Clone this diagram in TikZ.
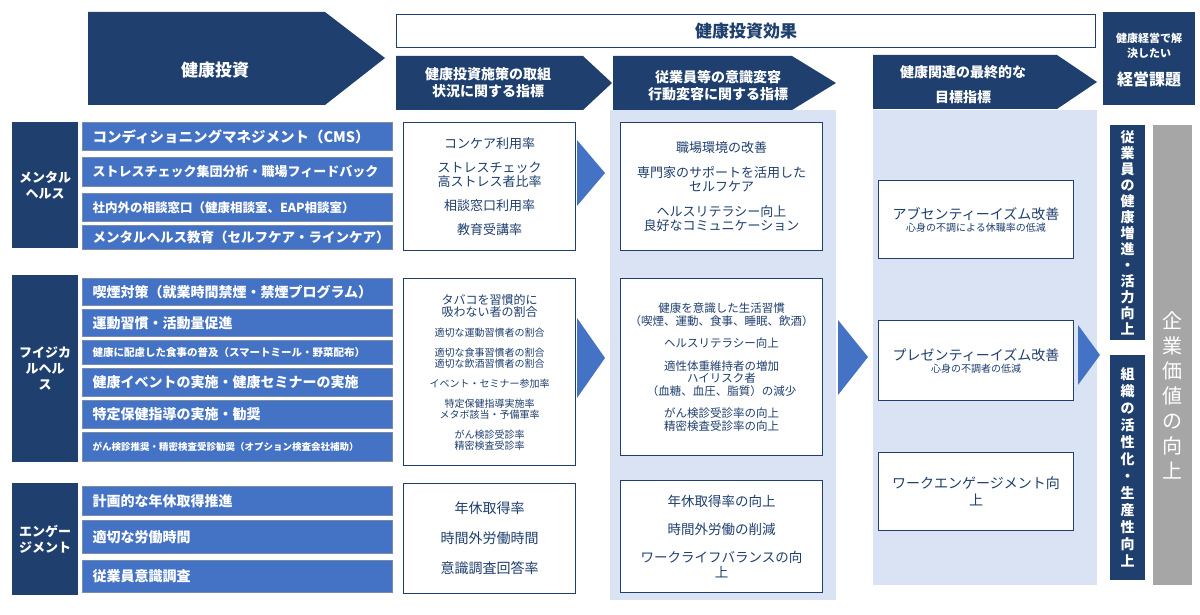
\documentclass[tikz,border=0pt]{standalone}
\usepackage{fontspec}
\setmainfont{Noto Sans CJK JP}
\begin{document}
\begin{tikzpicture}[x=1pt,y=-1pt,
 navy/.style={fill=nv,draw=none,text=white,font=\bfseries},
 bar/.style={fill=bl,draw=nv!60,line width=0.8pt,text=white,anchor=north west,inner sep=0pt},
 wbox/.style={fill=white,draw=nv,line width=1pt},
 tx/.style={text=nv,align=center,inner sep=0pt}]
\definecolor{nv}{HTML}{1F3F6E}
\definecolor{bl}{HTML}{4472C4}
\definecolor{lb}{HTML}{DAE3F3}
\definecolor{gr}{HTML}{A6A6A6}
\useasboundingbox (0,0) rectangle (1200,615);
% top arrows
\fill[nv] (88,12) -- (325,12) -- (385,58) -- (325,105) -- (88,105) -- cycle;
\node[text=white,font=\bfseries\fontsize{17}{18}\selectfont] (t1) at (215,70) {健康投資};
\node[wbox,minimum width=699,minimum height=33,anchor=north west,inner sep=0pt] (eff) at (396,14) {};
\node[text=nv,font=\bfseries\fontsize{17}{18}\selectfont] at (eff.center) {健康投資効果};
\fill[nv] (396,56) -- (583,56) -- (612,83) -- (583,110) -- (396,110) -- cycle;
\node[text=white,align=center,font=\bfseries\fontsize{14}{17}\selectfont] (t2) at (488,83) {健康投資施策の取組\\状況に関する指標};
\fill[nv] (613,56) -- (792,56) -- (836,83) -- (792,110) -- (613,110) -- cycle;
\node[text=white,align=center,font=\bfseries\fontsize{14}{17}\selectfont] (t3) at (718,86) {従業員等の意識変容\\行動変容に関する指標};
\fill[nv] (873,55) -- (1057,55) -- (1097,82) -- (1057,109) -- (873,109) -- cycle;
\node[text=white,align=center,font=\bfseries\fontsize{14}{25}\selectfont] (t4) at (963,85) {健康関連の最終的な\\目標指標};
\node[navy,minimum width=92,minimum height=93,anchor=north west,inner sep=0pt] (kei) at (1103,12) {};
\node[text=white,align=center,font=\bfseries\fontsize{11}{15}\selectfont] at (1149,46) {健康経営で解\\決したい};
\node[text=white,font=\bfseries\fontsize{16}{18}\selectfont] at (1149,79) {経営課題};
% background columns
\fill[lb] (610,110) rectangle (836,600);
\fill[lb] (873,110) rectangle (1097,585);
% left categories
\node[navy,minimum width=66,minimum height=126,anchor=north west,font=\bfseries\fontsize{13}{16}\selectfont,align=center] (mh) at (12,122) {メンタル\\ヘルス};
\node[navy,minimum width=66,minimum height=187,anchor=north west,font=\bfseries\fontsize{13}{16}\selectfont,align=center] (ph) at (12,275) {フイジカ\\ルヘル\\ス};
\node[navy,minimum width=66,minimum height=112,anchor=north west,font=\bfseries\fontsize{13}{16}\selectfont,align=center] (en) at (12,483) {エンゲー\\ジメント};
% bars
\foreach \y/\h/\s/\t [count=\i] in {
 122/28/14.5/{コンディショニングマネジメント（CMS）},
 157/29/13/{ストレスチェック集団分析・職場フィードバック},
 193/28/12.5/{社内外の相談窓口（健康相談室、EAP相談室）},
 225/24/13.5/{メンタルヘルス教育（セルフケア・ラインケア）},
 278/27/14/{喫煙対策（就業時間禁煙・禁煙プログラム）},
 309/27/14/{運動習慣・活動量促進},
 340/24/10.5/{健康に配慮した食事の普及（スマートミール・野菜配布）},
 368/28/14/{健康イベントの実施・健康セミナーの実施},
 400/28/14/{特定保健指導の実施・勧奨},
 432/29/9.5/{がん検診推奨・精密検査受診勧奨（オプション検査会社補助）},
 486/29/14/{計画的な年休取得推進},
 520/33/14/{適切な労働時間},
 560/32/14/{従業員意識調査}}
 {\node[bar,minimum width=310,minimum height=\h] (b\i) at (82,\y) {};
  \node[anchor=west,text=white,font=\bfseries\fontsize{\s}{\s}\selectfont] at ([xshift=7]b\i.west) {\t};}
% column 2
\node[wbox,minimum width=172,minimum height=128,anchor=north west] (c2a) at (403,122) {};
\node[tx,font=\fontsize{13}{14}\selectfont] at (c2a.center) {コンケア利用率\\[10pt]ストレスチェック\\高ストレス者比率\\[10pt]相談窓口利用率\\[10pt]教育受講率};
\node[wbox,minimum width=172,minimum height=187,anchor=north west] (c2b) at (403,278) {};
\node[tx,font=\fontsize{10}{11}\selectfont] at (c2b.center) {{\fontsize{12}{13}\selectfont タバコを習慣的に}\\{\fontsize{12}{13}\selectfont 吸わない者の割合}\\[9pt]適切な運動習慣者の割合\\[9pt]適切な食事習慣者の割合\\適切な飲酒習慣者の割合\\[9pt]イベント・セミナー参加率\\[9pt]特定保健指導実施率\\メタボ該当・予備軍率\\[9pt]がん検診受診率\\精密検査受診率};
\node[wbox,minimum width=172,minimum height=110,anchor=north west] (c2c) at (403,483) {};
\node[tx,font=\fontsize{14}{16}\selectfont] at (c2c.center) {年休取得率\\[14pt]時間外労働時間\\[14pt]意識調査回答率};
\fill[bl] (577,140) -- (605,173) -- (577,206) -- cycle;
\fill[bl] (577,318) -- (605,358) -- (577,398) -- cycle;
% column 3
\node[wbox,minimum width=202,minimum height=128,anchor=north west] (c3a) at (620,122) {};
\node[tx,font=\fontsize{13}{14}\selectfont] at (c3a.center) {職場環境の改善\\[11pt]専門家のサポートを活用した\\セルフケア\\[11pt]ヘルスリテラシー向上\\良好なコミュニケーション};
\node[wbox,minimum width=202,minimum height=177,anchor=north west] (c3b) at (620,278) {};
\node[tx,font=\fontsize{11.5}{12.5}\selectfont] at (c3b.center) {健康を意識した生活習慣\\（喫煙、運動、食事、睡眠、飲酒）\\[10pt]ヘルスリテラシー向上\\[10pt]適性体重維持者の増加\\ハイリスク者\\（血糖、血圧、脂質）の減少\\[10pt]がん検診受診率の向上\\精密検査受診率の向上};
\node[wbox,minimum width=202,minimum height=112,anchor=north west] (c3c) at (620,480) {};
\node[tx,font=\fontsize{13.5}{15}\selectfont] at (c3c.center) {年休取得率の向上\\[13pt]時間外労働の削減\\[13pt]ワークライフバランスの向\\上};
\fill[bl] (838,320) -- (868,357) -- (838,395) -- cycle;
% column 4
\node[wbox,minimum width=195,minimum height=78,anchor=north west] (c4a) at (878,180) {};
\node[tx] at (c4a.center) {{\fontsize{14}{16}\selectfont アブセンティーイズム改善}\\{\fontsize{10}{12}\selectfont 心身の不調による休職率の低減}};
\node[wbox,minimum width=195,minimum height=80,anchor=north west] (c4b) at (878,320) {};
\node[tx] at (c4b.center) {{\fontsize{14}{16}\selectfont プレゼンティーイズム改善}\\{\fontsize{10}{12}\selectfont 心身の不調者の低減}};
\node[wbox,minimum width=195,minimum height=78,anchor=north west] (c4c) at (878,452) {};
\node[tx,font=\fontsize{14}{17}\selectfont] at (c4c.center) {ワークエンゲージメント向\\上};
\fill[bl] (1078,325) -- (1100,355) -- (1078,385) -- cycle;
% right
\node[navy,minimum width=35,minimum height=215,anchor=north west] (r1) at (1110,125) {};
\node[text=white,align=center,font=\bfseries\fontsize{14}{16}\selectfont] at (r1.center) {従\\業\\員\\の\\健\\康\\増\\進\\・\\活\\力\\向\\上};
\node[navy,minimum width=35,minimum height=225,anchor=north west] (r2) at (1110,355) {};
\node[text=white,align=center,font=\bfseries\fontsize{14}{17}\selectfont] at (r2.center) {組\\織\\の\\活\\性\\化\\・\\生\\産\\性\\向\\上};
\node[fill=gr,minimum width=39,minimum height=460,anchor=north west,inner sep=0pt] (r3) at (1153,125) {};
\node[text=white,align=center,font=\fontsize{20}{25}\selectfont] at ([yshift=-40]r3.center) {企\\業\\価\\値\\の\\向\\上};
\end{tikzpicture}
\end{document}
